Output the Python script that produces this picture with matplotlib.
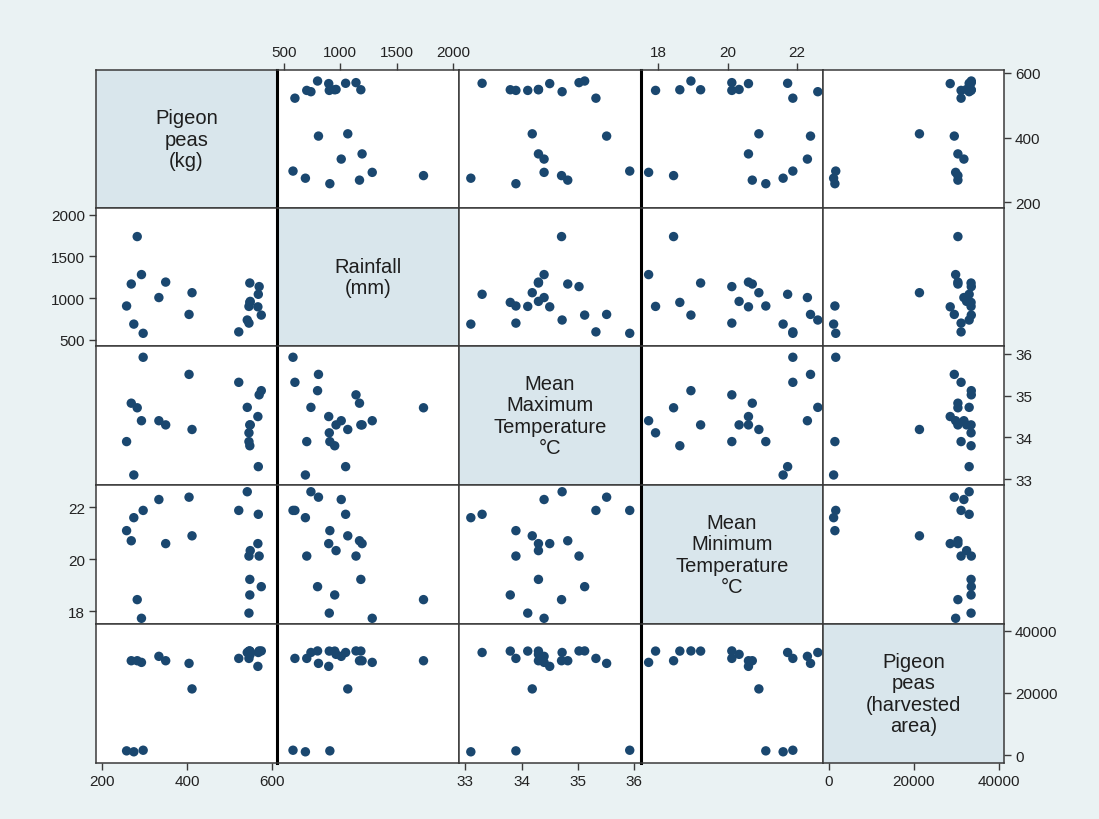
import matplotlib
matplotlib.use("Agg")
import matplotlib.pyplot as plt

plt.rcParams['font.family'] = ['Liberation Sans', 'DejaVu Sans']

# one entry per season / site
pigeon_kg = [283, 293, 269, 350, 334, 412, 258, 405, 275, 297,
             548, 570, 568, 548, 546, 567, 575, 542, 546, 522, 549]
rainfall = [1738, 1283, 1170, 1193, 1008, 1066, 907, 806, 690, 580,
            1182, 1139, 1047, 950, 902, 897, 798, 739, 702, 597, 962]
max_temp = [34.71, 34.40, 34.82, 34.30, 34.40, 34.19, 33.90, 35.51, 33.10, 35.92,
            34.30, 35.02, 33.30, 33.80, 34.11, 34.50, 35.12, 34.72, 33.90, 35.32, 34.30]
min_temp = [18.44, 17.72, 20.71, 20.60, 22.30, 20.90, 21.10, 22.39, 21.60, 21.88,
            19.22, 20.12, 21.73, 18.62, 17.92, 20.60, 18.94, 22.60, 20.12, 21.88, 20.33]
area_ha = [30350, 29820, 30350, 30350, 31760, 21300, 1400, 29500, 1100, 1600,
           33450, 33500, 33000, 33450, 33450, 28540, 33500, 33000, 31100, 31100, 32400]

labels = ["Pigeon\npeas\n(kg)", "Rainfall\n(mm)",
          "Mean\nMaximum\nTemperature\n°C", "Mean\nMinimum\nTemperature\n°C",
          "Pigeon\npeas\n(harvested\narea)"]
tick_vals = [[200, 400, 600], [500, 1000, 1500, 2000], [33, 34, 35, 36],
             [18, 20, 22], [0, 20000, 40000]]
# value range per variable, horizontal and vertical use
x_limits = [(186, 612), (438, 2053), (32.89, 36.12), (17.5, 22.75), (-1400, 41200)]
y_limits = [(183, 609), (428, 2080), (32.86, 36.19), (17.5, 22.86), (-2500, 42150)]
x_side = ['bottom', 'top', 'bottom', 'top', 'bottom']
y_side = ['right', 'left', 'right', 'left', 'right']

data = [pigeon_kg, rainfall, max_temp, min_temp, area_ha]

W, H = 1099, 820
col_edges = [96, 277, 459, 641, 823, 1004]
row_edges = [71, 209, 347, 486, 625, 764]

bg = '#eaf2f3'
diag_fill = '#d9e6ec'
navy = '#1a476f'
frame = '#3a3a3a'

fig = plt.figure(figsize=(W / 100, H / 100), dpi=100, facecolor=bg)
n = len(data)

for r in range(n):
    for c in range(n):
        x0, x1 = col_edges[c], col_edges[c + 1]
        y0, y1 = row_edges[r], row_edges[r + 1]
        ax = fig.add_axes([x0 / W, 1 - y1 / H, (x1 - x0) / W, (y1 - y0) / H])
        ax.set_xlim(x_limits[c])
        ax.set_ylim(y_limits[r])
        for sp in ax.spines.values():
            sp.set_color(frame)
            sp.set_linewidth(1.1)
        if c in (1, 3):
            ax.spines['left'].set_linewidth(2.2)
            ax.spines['left'].set_color('black')
        if r == c:
            ax.set_facecolor(diag_fill)
            ax.text(0.5, 0.5, labels[r], transform=ax.transAxes, ha='center',
                    va='center', fontsize=14.5, color='#1e1e1e', linespacing=1.15)
        else:
            ax.set_facecolor('white')
            ax.scatter(data[c], data[r], s=46, color=navy, edgecolors='none',
                       zorder=3, clip_on=False)

        # axis ticks only on the outer edge of the matrix
        show_x = (x_side[c] == 'bottom' and r == n - 1) or (x_side[c] == 'top' and r == 0)
        show_y = (y_side[r] == 'right' and c == n - 1) or (y_side[r] == 'left' and c == 0)
        if show_x:
            ax.set_xticks(tick_vals[c])
            ax.xaxis.set_ticks_position(x_side[c])
            ax.tick_params(axis='x', direction='out', length=5, width=1,
                           colors=frame, labelcolor='#222222', labelsize=11, pad=3)
        else:
            ax.set_xticks([])
        if show_y:
            ax.set_yticks(tick_vals[r])
            ax.yaxis.set_ticks_position(y_side[r])
            ax.tick_params(axis='y', direction='out', length=5, width=1,
                           colors=frame, labelcolor='#222222', labelsize=11, pad=3)
        else:
            ax.set_yticks([])

fig.savefig("out.png", dpi=100, facecolor=bg)
